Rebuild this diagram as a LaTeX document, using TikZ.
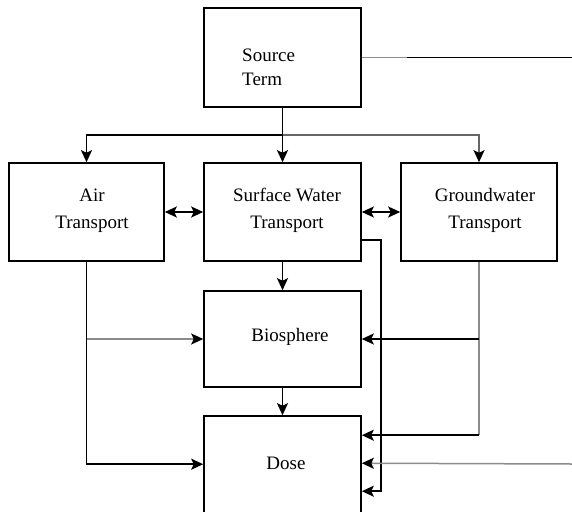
\documentclass[tikz,border=0pt]{standalone}
\usepackage{fontspec}
\setmainfont{Liberation Serif}
\usetikzlibrary{arrows.meta}
\begin{document}
\begin{tikzpicture}[x=1pt,y=-1pt,
  box/.style={draw,line width=1.6pt,inner sep=0pt},
  lbl/.style={font=\fontsize{19}{27}\selectfont,align=center,inner sep=0pt},
  conn/.style={line width=1.5pt},
  tip/.tip={Stealth[length=12pt,width=11pt,inset=2.5pt,color=black]},
  arr/.style={conn,-tip},
  arrs/.style={conn,tip-tip},
  faint/.style={draw=black!45}]
\useasboundingbox (0,0) rectangle (572,511);
\clip (0,0) rectangle (572,511);
% boxes
\node[box,minimum width=157pt,minimum height=99pt] (src) at (282.5,57.5) {};
\node[box,minimum width=155pt,minimum height=98pt] (air) at (86.5,212) {};
\node[box,minimum width=157pt,minimum height=98pt] (sw) at (282.5,212) {};
\node[box,minimum width=156pt,minimum height=98pt] (gw) at (479,212) {};
\node[box,minimum width=157pt,minimum height=96pt] (bio) at (282.5,339) {};
\node[box,minimum width=157pt,minimum height=120pt] (dose) at (282.5,476) {};
% texts
\node[lbl,font=\fontsize{19}{24}\selectfont,align=left,anchor=west] (srct) at (242,67) {Source\\Term};
\node[lbl] (airt) at (92,210.5) {Air\\Transport};
\node[lbl] (swt) at (287,210.5) {Surface Water\\Transport};
\node[lbl] (gwt) at (485,210.5) {Groundwater\\Transport};
\node[lbl] (biot) at (290,337) {Biosphere};
\node[lbl] (doset) at (286,463) {Dose};
% free-end coordinates
\coordinate (bar) at (282.5,135);
\coordinate (edgeA) at (572,57.5);
\coordinate (edgeB) at (572,464);
\coordinate (gwbot) at ([yshift=-20pt]dose.north east -| gw.south);
% connectors
\draw[arr] (src.south) -- (sw.north);
\draw[arr] (bar) -| (air.north);
\draw[arr,draw=black!60] (bar) -| (gw.north);
\draw[arrs] (air.east) -- (sw.west);
\draw[arrs] (sw.east) -- (gw.west);
\draw[arr] (sw.south) -- (bio.north);
\draw[arr] (bio.south) -- (dose.north);
\draw[arr] (air.south) |- ([yshift=-49pt]dose.north west);
\draw[arr,faint] (air.south |- bio.west) -- (bio.west);
\draw[conn,faint] (gw.south) -- (gwbot);
\draw[arr] (gwbot) -- ([yshift=-20pt]dose.north east);
\draw[arr] (gw.south |- bio.east) -- (bio.east);
\draw[arr] ([yshift=22pt]sw.south east) -- ++(19,0) |- ([yshift=-76pt]dose.north east);
\draw[conn,faint] (src.east) -- ++(45,0) coordinate (srcmid);
\draw[conn] (srcmid) -- (edgeA);
\draw[arr,faint] (edgeB) -- ([yshift=-48pt]dose.north east);
\end{tikzpicture}
\end{document}
